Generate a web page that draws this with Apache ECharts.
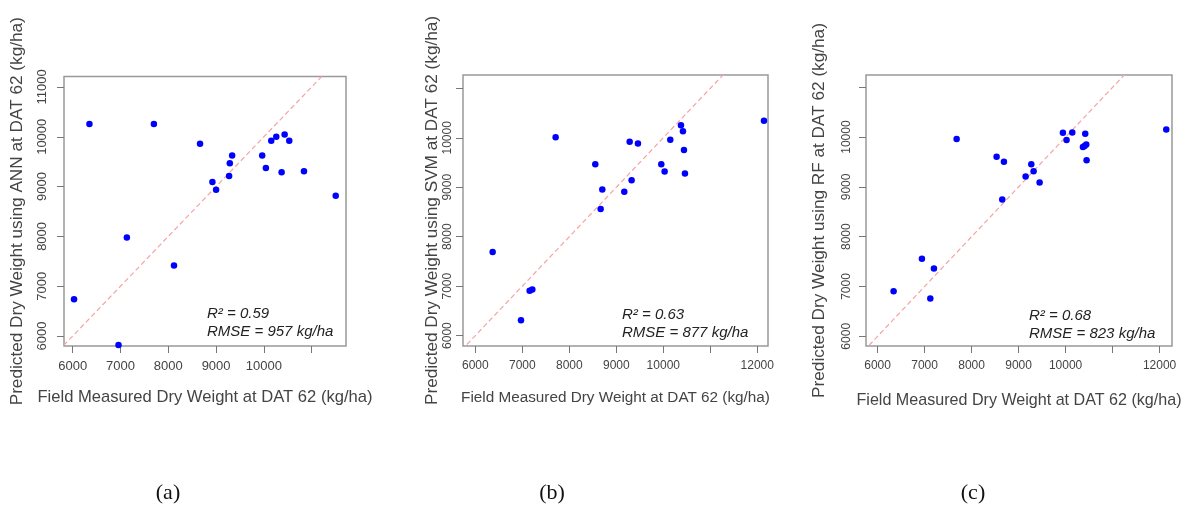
<!DOCTYPE html>
<html>
<head>
<meta charset="utf-8">
<script src="https://cdn.jsdelivr.net/npm/echarts@6/dist/echarts.min.js"></script>
<style>
html,body{margin:0;padding:0;background:#fff;}
#chart{width:1188px;height:508px;}
</style>
</head>
<body>
<div id="chart"></div>
<script>
// ---- data ----
const annMeasured  = [6350,7699,8664,9336,9287,9273,8923,9000,9965,10042,10154,10259,10434,10531,10371,10839,11503,7133,8119,6028,6958];
const annPredicted = [10256,10256,9859,9623,9468,9212,9091,8936,9623,9374,9919,10000,10047,9919,9286,9306,8815,7980,7418,6737,5818];
const svmMeasured  = [6369,7156,7213,6972,7709,8553,8702,8667,9170,9326,9284,9461,9957,10028,10149,10376,10418,10440,10461,12142];
const svmPredicted = [7690,6906,6933,6310,10010,9467,8954,8562,8907,9143,9919,9885,9467,9319,9960,10256,10135,9751,9278,10344];
const rfMeasured   = [6340,6943,7199,7121,7681,8532,8688,8652,9149,9270,9319,9447,9943,10021,10142,10418,10369,10404,10440,10447,12142];
const rfPredicted  = [6906,7557,7362,6758,9960,9604,9503,8745,9208,9456,9315,9087,10087,9940,10094,10067,9799,9819,9852,9537,10154];
const oneToOne = [5000, 13000];

const models   = ['ANN','SVM','RF'];
const r2Values = ['0.59','0.63','0.68'];
const rmseValues = [957, 877, 823];
const captions = ['(a)','(b)','(c)'];

const xTicksA = [6000,7000,8000,9000,10000,11000];
const xLabelsA = [6000,7000,8000,9000,10000];
const yTicksA = [6000,7000,8000,9000,10000,11000];
const yLabelsA = [6000,7000,8000,9000,10000,11000];
const xTicksBC = [6000,7000,8000,9000,10000,11000,12000];
const xLabelsBC = [6000,7000,8000,9000,10000,12000];
const yTicksBC = [6000,7000,8000,9000,10000,11000];
const yLabelsBC = [6000,7000,8000,9000,10000];

// ---- layout ----
const FONT = '"Liberation Sans", Arial, sans-serif';
const panels = [
  {grid:{left:64, top:76.5, width:282, height:269.5}, x:[5818,11718], y:[5800,11210],
   xt:xTicksA, xl:xLabelsA, yt:yTicksA, yl:yLabelsA, tickFont:13, xTitleFont:16.6, yTitleFont:17.2,
   yLabelMargin:15, yNameGap:38, xNameGap:43,
   ann:[207,314], cap:168, mx:annMeasured, py:annPredicted},
  {grid:{left:463, top:75, width:305, height:271}, x:[5738,12228], y:[5790,11270],
   xt:xTicksBC, xl:xLabelsBC, yt:yTicksBC, yl:yLabelsBC, tickFont:12, xTitleFont:15.3, yTitleFont:17.2,
   yLabelMargin:9, yNameGap:17, xNameGap:44,
   ann:[622,315], cap:552, mx:svmMeasured, py:svmPredicted},
  {grid:{left:866, top:75, width:306, height:271}, x:[5753,12264], y:[5805,11247],
   xt:xTicksBC, xl:xLabelsBC, yt:yTicksBC, yl:yLabelsBC, tickFont:12, xTitleFont:16.1, yTitleFont:17.2,
   yLabelMargin:13, yNameGap:38, xNameGap:47,
   ann:[1029,316], cap:973, mx:rfMeasured, py:rfPredicted}
];

const plain = v => String(v);
const grid = [], xAxis = [], yAxis = [], series = [], graphic = [];
panels.forEach((p, i) => {
  grid.push(Object.assign({show:true, borderColor:'#999', borderWidth:1.5, backgroundColor:'#fff'}, p.grid));
  xAxis.push({
    gridIndex:i, type:'value', min:p.x[0], max:p.x[1],
    axisLine:{show:false}, splitLine:{show:false},
    axisTick:{show:true, inside:false, length:7, customValues:p.xt, lineStyle:{color:'#777', width:1}},
    axisLabel:{customValues:p.xl, formatter:plain, margin:14, fontSize:p.tickFont, color:'#444', fontFamily:FONT},
    name:'Field Measured Dry Weight at DAT 62 (kg/ha)', nameLocation:'middle', nameGap:p.xNameGap,
    nameTextStyle:{fontSize:p.xTitleFont, color:'#444', fontFamily:FONT}
  });
  yAxis.push({
    gridIndex:i, type:'value', min:p.y[0], max:p.y[1],
    axisLine:{show:false}, splitLine:{show:false},
    axisTick:{show:true, inside:false, length:7, customValues:p.yt, lineStyle:{color:'#777', width:1}},
    axisLabel:{customValues:p.yl, formatter:plain, rotate:90, margin:p.yLabelMargin, fontSize:p.tickFont, color:'#444', fontFamily:FONT},
    name:'Predicted Dry Weight using ' + models[i] + ' at DAT 62 (kg/ha)', nameLocation:'middle', nameGap:p.yNameGap,
    nameTextStyle:{fontSize:p.yTitleFont, color:'#444', fontFamily:FONT}
  });
  series.push({
    type:'line', xAxisIndex:i, yAxisIndex:i, data:[[oneToOne[0],oneToOne[0]],[oneToOne[1],oneToOne[1]]],
    showSymbol:false, symbol:'none', clip:true, silent:true,
    lineStyle:{color:'#f5a3a3', width:1.2, type:[5,3]}, z:1
  });
  series.push({
    type:'scatter', xAxisIndex:i, yAxisIndex:i, symbolSize:6.5,
    itemStyle:{color:'#0000ff', opacity:1}, z:3,
    data:p.mx.map((v,k)=>[v, p.py[k]])
  });
  graphic.push({type:'text', x:p.ann[0], y:p.ann[1], style:{text:'R\u00b2 = ' + r2Values[i], font:'italic 15px ' + FONT, fill:'#222', textVerticalAlign:'middle'}});
  graphic.push({type:'text', x:p.ann[0], y:p.ann[1]+18, style:{text:'RMSE = ' + rmseValues[i] + ' kg/ha', font:'italic 15px ' + FONT, fill:'#222', textVerticalAlign:'middle'}});
  graphic.push({type:'text', x:p.cap, y:493, style:{text:captions[i], font:'22px "Liberation Serif", "Times New Roman", serif', fill:'#111', textAlign:'center', textVerticalAlign:'middle'}});
});

const chart = echarts.init(document.getElementById('chart'), null, {renderer:'canvas'});
chart.setOption({animation:false, backgroundColor:'#fff', grid, xAxis, yAxis, series, graphic});
</script>
</body>
</html>
